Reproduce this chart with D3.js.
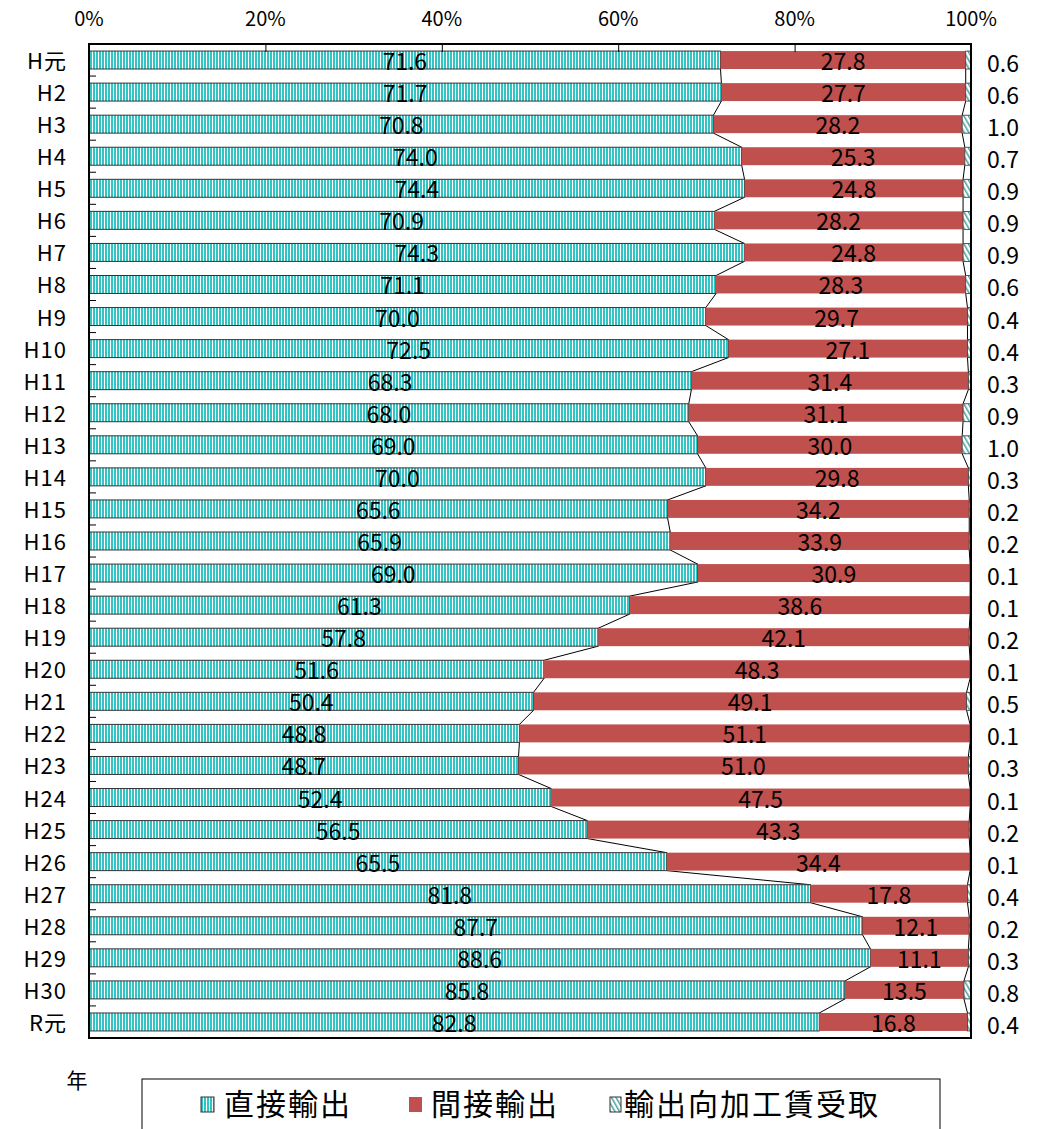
<!DOCTYPE html>
<html>
<head>
<meta charset="utf-8">
<script src="https://cdn.jsdelivr.net/npm/d3@7"></script>
<style>
  body { margin: 0; background: #fff; }
  svg { display: block; font-family: "Noto Sans CJK JP", "Noto Sans", sans-serif; }
</style>
</head>
<body>
<div id="chart"></div>
<script>
// Data
const years = ["H元","H2","H3","H4","H5","H6","H7","H8","H9","H10","H11","H12","H13","H14","H15","H16","H17","H18","H19","H20","H21","H22","H23","H24","H25","H26","H27","H28","H29","H30","R元"];
const direct = [71.6,71.7,70.8,74.0,74.4,70.9,74.3,71.1,70.0,72.5,68.3,68.0,69.0,70.0,65.6,65.9,69.0,61.3,57.8,51.6,50.4,48.8,48.7,52.4,56.5,65.5,81.8,87.7,88.6,85.8,82.8];
const indirect = [27.8,27.7,28.2,25.3,24.8,28.2,24.8,28.3,29.7,27.1,31.4,31.1,30.0,29.8,34.2,33.9,30.9,38.6,42.1,48.3,49.1,51.1,51.0,47.5,43.3,34.4,17.8,12.1,11.1,13.5,16.8];
const processing = [0.6,0.6,1.0,0.7,0.9,0.9,0.9,0.6,0.4,0.4,0.3,0.9,1.0,0.3,0.2,0.2,0.1,0.1,0.2,0.1,0.5,0.1,0.3,0.1,0.2,0.1,0.4,0.2,0.3,0.8,0.4];
const seriesNames = ["直接輸出","間接輸出","輸出向加工賃受取"];
const xTicks = [0, 20, 40, 60, 80, 100];

const width = 1044, height = 1129;
const margin = { top: 44, right: 73, bottom: 91, left: 89 };

const svg = d3.select("#chart").append("svg")
  .attr("width", width).attr("height", height);

// Patterns
const defs = svg.append("defs");
const pv = defs.append("pattern").attr("id", "vstripe")
  .attr("patternUnits", "userSpaceOnUse").attr("width", 3).attr("height", 10);
pv.append("rect").attr("width", 3).attr("height", 10).attr("fill", "#fff");
pv.append("rect").attr("width", 2).attr("height", 10).attr("fill", "#33c3c3");

const pd = defs.append("pattern").attr("id", "diag")
  .attr("patternUnits", "userSpaceOnUse").attr("width", 4).attr("height", 4)
  .attr("patternTransform", "rotate(-30)");
pd.append("rect").attr("width", 4).attr("height", 4).attr("fill", "#fff");
pd.append("rect").attr("width", 1.5).attr("height", 4).attr("fill", "#4a9f9f");

// Normalised stacks
const rows = years.map((y, i) => {
  const tot = direct[i] + indirect[i] + processing[i];
  const a = direct[i] / tot * 100, b = indirect[i] / tot * 100;
  return { year: y, d: direct[i], ind: indirect[i], p: processing[i], x1: a, x2: a + b };
});

const x = d3.scaleLinear().domain([0, 100])
  .range([margin.left, width - margin.right]);
const y = d3.scaleBand().domain(years)
  .range([margin.top, height - margin.bottom]).paddingInner(0.44).paddingOuter(0.22);
const step = y.step();

// Series lines between bars
const lineG = svg.append("g").attr("stroke", "#000").attr("stroke-width", 1).attr("fill", "none");
for (let i = 0; i < rows.length - 1; i++) {
  const yA = y(years[i]) + y.bandwidth(), yB = y(years[i + 1]);
  ["x1", "x2"].forEach(k => {
    lineG.append("line")
      .attr("x1", x(rows[i][k])).attr("y1", yA)
      .attr("x2", x(rows[i + 1][k])).attr("y2", yB);
  });
}

// Bars
const barG = svg.append("g");
barG.selectAll("rect.d").data(rows).join("rect")
  .attr("x", x(0)).attr("y", d => y(d.year))
  .attr("width", d => x(d.x1) - x(0)).attr("height", y.bandwidth())
  .attr("fill", "url(#vstripe)").attr("stroke", "#333").attr("stroke-width", 1);
barG.selectAll("rect.i").data(rows).join("rect")
  .attr("x", d => x(d.x1)).attr("y", d => y(d.year))
  .attr("width", d => x(d.x2) - x(d.x1)).attr("height", y.bandwidth())
  .attr("fill", "#c0504d");
barG.selectAll("rect.p").data(rows).join("rect")
  .attr("x", d => x(d.x2)).attr("y", d => y(d.year))
  .attr("width", d => x(100) - x(d.x2)).attr("height", y.bandwidth())
  .attr("fill", "url(#diag)").attr("stroke", "#333").attr("stroke-width", 0.8);

// Value labels
const lblG = svg.append("g").attr("font-size", 23).attr("fill", "#000")
  .attr("text-anchor", "middle");
rows.forEach(r => {
  const cy = y(r.year) + y.bandwidth() / 2 + 10;
  lblG.append("text").attr("x", x(r.x1 / 2)).attr("y", cy).text(r.d.toFixed(1));
  lblG.append("text").attr("x", x((r.x1 + r.x2) / 2)).attr("y", cy).text(r.ind.toFixed(1));
  lblG.append("text").attr("x", x(100) + 32).attr("y", cy + 2).text(r.p.toFixed(1));
});

// Plot border
svg.append("rect")
  .attr("x", x(0)).attr("y", margin.top)
  .attr("width", x(100) - x(0)).attr("height", height - margin.bottom - margin.top)
  .attr("fill", "none").attr("stroke", "#000").attr("stroke-width", 2);

// Top axis
const xAxis = svg.append("g")
  .attr("transform", `translate(0,${margin.top})`)
  .call(d3.axisBottom(x).tickValues(xTicks).tickSize(8).tickFormat(""));
xAxis.select(".domain").remove();
xAxis.selectAll("line").attr("stroke", "#000");
svg.append("g").selectAll("text").data(xTicks).join("text")
  .attr("x", d => x(d)).attr("y", 26)
  .attr("text-anchor", "middle").attr("font-size", 20)
  .text(d => d + "%");

// Left axis: category labels and ticks between bands
svg.append("g").selectAll("line").data(years.slice(1)).join("line")
  .attr("x1", x(0)).attr("x2", x(0) + 7)
  .attr("y1", d => y(d) - step * y.paddingInner() / 2)
  .attr("y2", d => y(d) - step * y.paddingInner() / 2)
  .attr("stroke", "#000");
svg.append("g").selectAll("text").data(years).join("text")
  .attr("x", 67).attr("y", d => y(d) + y.bandwidth() / 2 + 9)
  .attr("text-anchor", "end").attr("font-size", 22).attr("letter-spacing", 1)
  .text(d => d);

svg.append("text").attr("x", 77).attr("y", 1088)
  .attr("text-anchor", "middle").attr("font-size", 21).text("年");

// Legend
const leg = svg.append("g");
leg.append("rect").attr("x", 142).attr("y", 1079).attr("width", 798).attr("height", 60)
  .attr("fill", "#fff").attr("stroke", "#000").attr("stroke-width", 1);
const legItems = [
  { name: seriesNames[0], fill: "url(#vstripe)", stroke: "#333", x: 201, tx: 224 },
  { name: seriesNames[1], fill: "#c0504d", stroke: "none", x: 409, tx: 431 },
  { name: seriesNames[2], fill: "url(#diag)", stroke: "#333", x: 610, tx: 624 }
];
legItems.forEach(it => {
  leg.append("rect").attr("x", it.x).attr("y", 1097).attr("width", it.x === 610 ? 11 : 13).attr("height", 15)
    .attr("fill", it.fill).attr("stroke", it.stroke);
  leg.append("text").attr("x", it.tx).attr("y", 1115)
    .attr("font-size", 30).attr("letter-spacing", 2).text(it.name);
});
</script>
</body>
</html>
